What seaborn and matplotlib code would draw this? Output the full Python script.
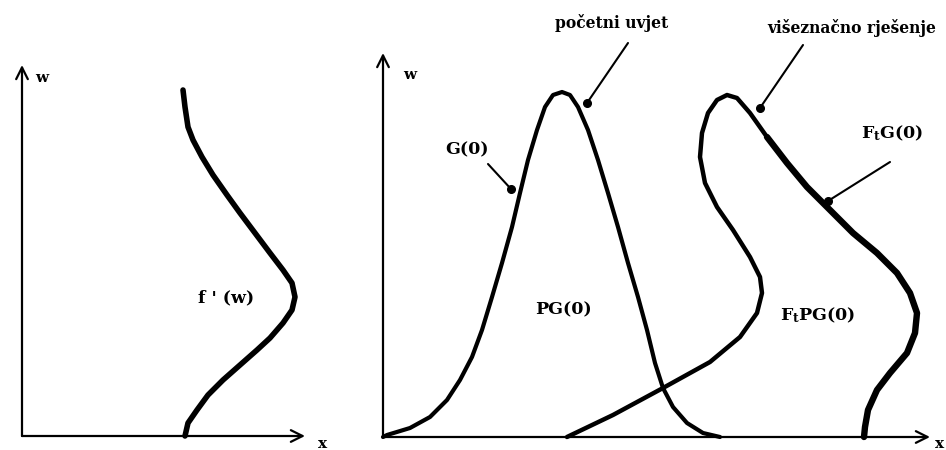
import numpy as np
import pandas as pd
import matplotlib
matplotlib.use("Agg")
import matplotlib.pyplot as plt
import seaborn as sns

# ---- data (x, w); origin of each panel at its axes' corner ----
# left panel: f'(w)
f_x = [161, 163, 166, 171, 180, 191, 205, 218, 233, 248, 261, 270, 273, 270, 261, 248,
       235, 218, 201, 186, 175, 166, 163]
f_w = [346, 329, 309, 296, 279, 261, 241, 223, 203, 183, 166, 153, 139, 126, 113, 98,
       86, 71, 56, 41, 26, 13, 0]

# right panel: initial condition G(0)
g_x = [0, 4, 27, 47, 64, 77, 89, 99, 109, 119, 129, 137, 145, 154, 162, 170, 179, 187,
       195, 205, 215, 225, 235, 245, 255, 264, 272, 280, 290, 304, 320, 337]
g_w = [0, 2, 9, 20, 37, 57, 80, 107, 140, 174, 210, 244, 277, 307, 330, 342, 345, 342,
       330, 307, 277, 244, 210, 174, 140, 107, 74, 49, 30, 14, 4, 0]

# right panel: multivalued solution FtG(0)
ftg_x = [184, 230, 280, 327, 357, 374, 379, 377, 367, 350, 334, 322, 317, 319, 325, 334,
         344, 354, 367, 384, 404, 424, 447, 470, 494, 514, 527, 534, 532, 524, 507, 494,
         485, 482, 481]
ftg_w = [0, 22, 49, 75, 100, 124, 144, 160, 180, 207, 230, 254, 280, 304, 324, 337,
         342, 339, 324, 300, 274, 250, 227, 204, 184, 164, 144, 124, 104, 84, 64, 47,
         27, 10, 0]
ftg_thick_from = 19  # index where the line becomes heavier

sns.set_theme(style="white")
plt.rcParams["font.family"] = ["DejaVu Serif"]
plt.rcParams["mathtext.fontset"] = "dejavuserif"

fig = plt.figure(figsize=(9.46, 4.5), dpi=100)
axL = fig.add_axes([0, 0, 360 / 946, 1])
axR = fig.add_axes([360 / 946, 0, 586 / 946, 1])
axL.set_xlim(-22, 338); axL.set_ylim(-14, 436)
axR.set_xlim(-23, 563); axR.set_ylim(-13, 437)
for ax in (axL, axR):
    ax.axis("off")

arrow = dict(arrowstyle="->,head_length=0.7,head_width=0.35", lw=1.6, color="black",
             shrinkA=0, shrinkB=0, mutation_scale=12)

def axes_arrows(ax, xmax, wmax):
    ax.annotate("", xy=(0, wmax), xytext=(0, 0), arrowprops=arrow, annotation_clip=False)
    ax.annotate("", xy=(xmax, 0), xytext=(0, 0), arrowprops=arrow, annotation_clip=False)

axes_arrows(axL, 283, 371)
axes_arrows(axR, 547, 384)

kw = dict(sort=False, estimator=None, color="black", legend=False,
          solid_joinstyle="round", solid_capstyle="round")

sns.lineplot(x=f_x, y=f_w, ax=axL, lw=4.0, **kw)
sns.lineplot(x=g_x, y=g_w, ax=axR, lw=3.0, **kw)
sns.lineplot(x=ftg_x[:ftg_thick_from + 1], y=ftg_w[:ftg_thick_from + 1], ax=axR, lw=3.2, **kw)
sns.lineplot(x=ftg_x[ftg_thick_from:], y=ftg_w[ftg_thick_from:], ax=axR, lw=4.6, **kw)
for line in axL.lines + axR.lines:
    line.set_clip_on(False)

# leader lines with dots
leaders = [((245, 394), (204, 334)), ((420, 392), (377, 329)),
           ((105, 273), (128, 248)), ((507, 275), (445, 236))]
for (x0, y0), (x1, y1) in leaders:
    axR.plot([x0, x1], [y0, y1], color="black", lw=1.5, solid_capstyle="round")
    axR.plot([x1], [y1], "o", color="black", ms=5.5)

bold = dict(fontweight="bold", color="black", ha="center", va="center")
axL.text(20, 358, "w", fontsize=11, **bold)
axL.text(301, -8, "x", fontsize=11, **bold)
axL.text(204, 138, "f ' (w)", fontsize=12.5, **bold)
axR.text(27, 362, "w", fontsize=11, **bold)
axR.text(557, -7, "x", fontsize=11, **bold)
axR.text(84, 287, "G(0)", fontsize=12.5, **bold)
axR.text(180, 127, "PG(0)", fontsize=12.5, **bold)
axR.text(435, 122, r"$\mathbf{F_t}$PG(0)", fontsize=12.5, **bold)
axR.text(509, 304, r"$\mathbf{F_t}$G(0)", fontsize=12.5, **bold)
axR.text(229, 414, "početni uvjet", fontsize=11.2, **bold)
axR.text(469, 409, "višeznačno rješenje", fontsize=11.2, **bold)

fig.savefig("out.png", dpi=100, facecolor="white")
